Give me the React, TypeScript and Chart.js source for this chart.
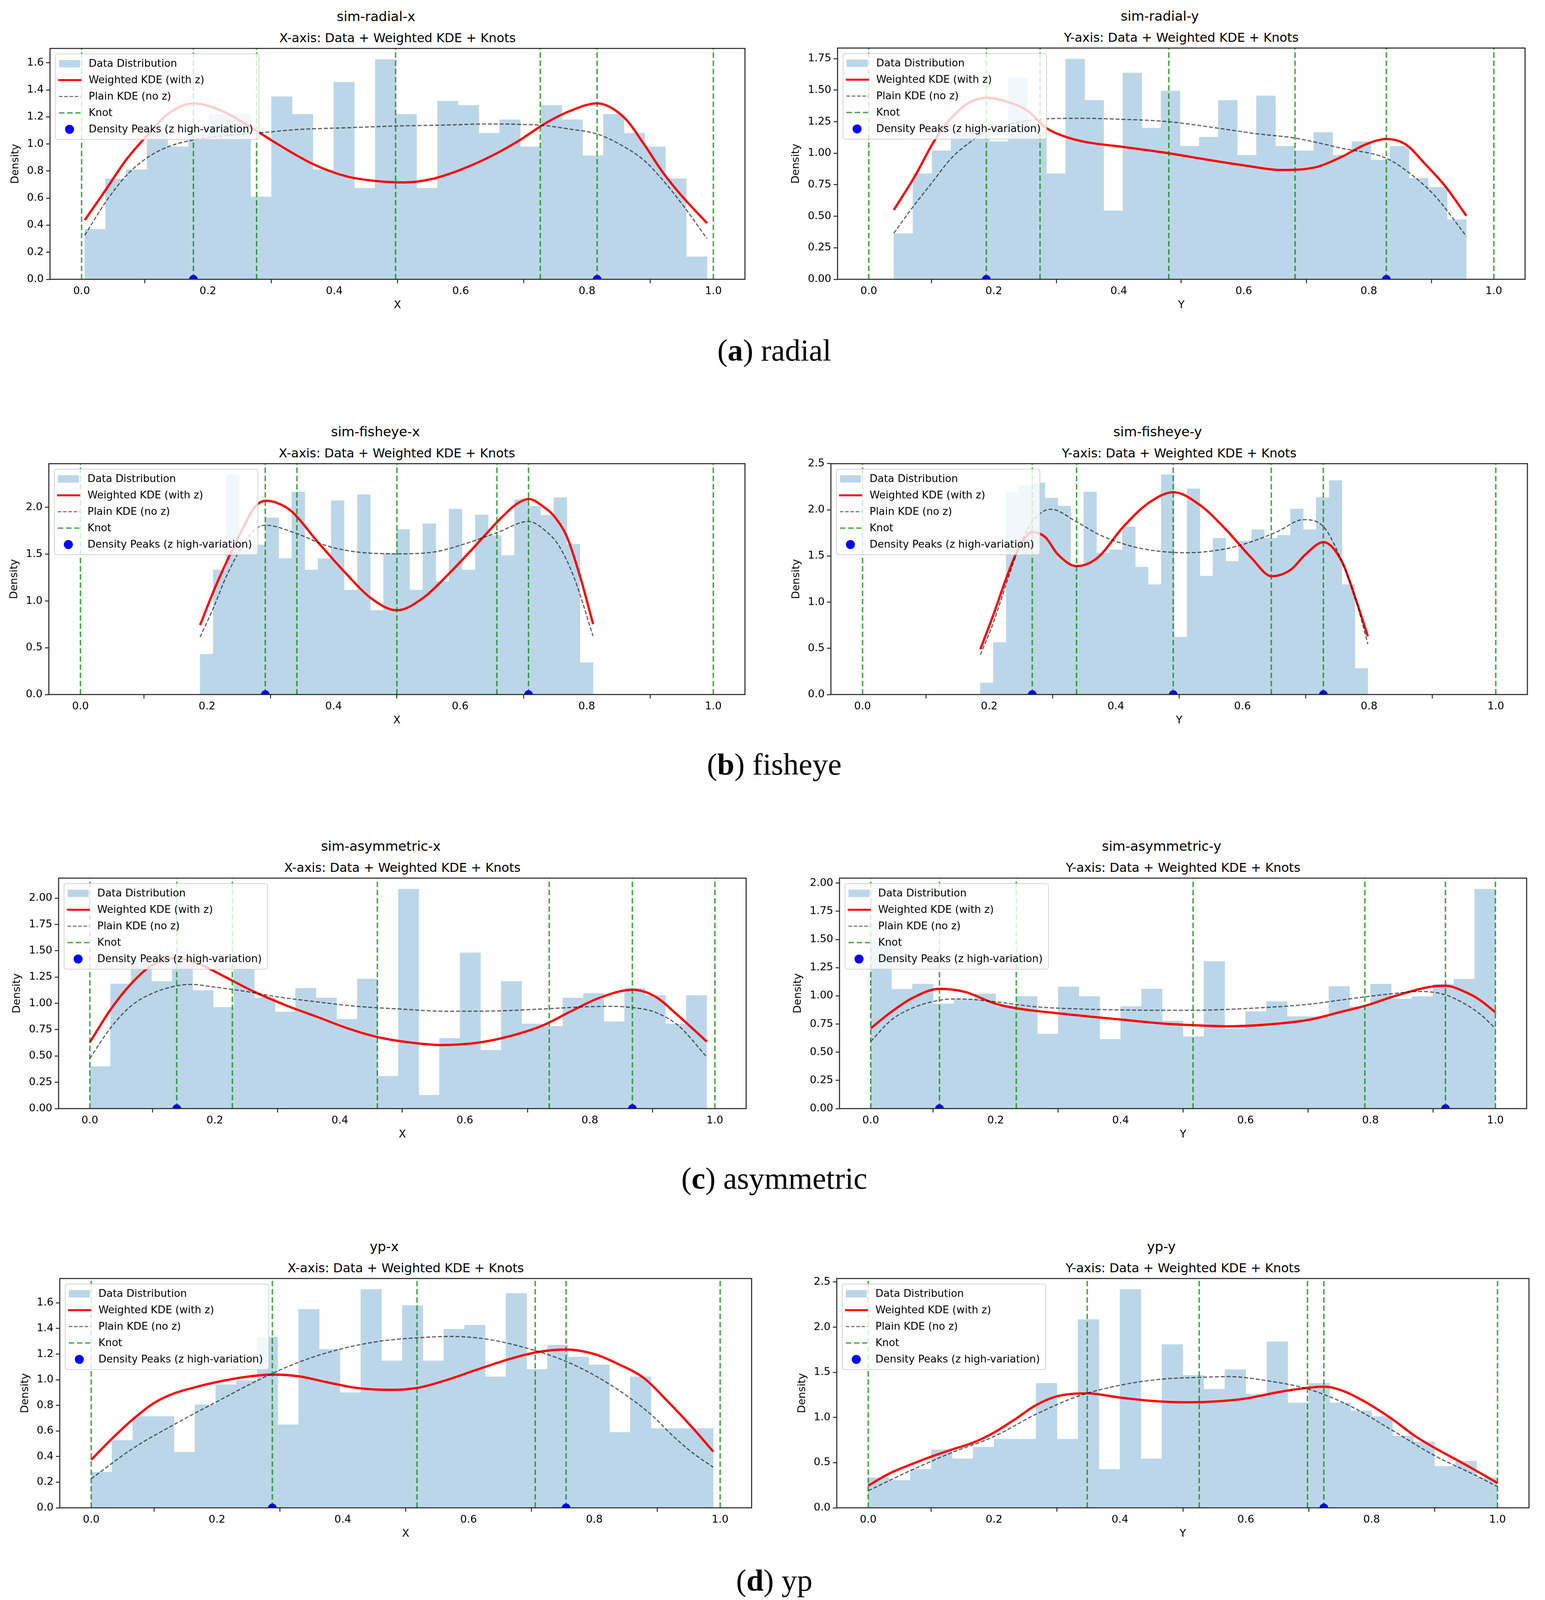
import React, { useEffect, useRef } from "react";
import { Chart, registerables } from "chart.js";
Chart.register(...registerables);

type Pt = [number, number];

const SANS = "'DejaVu Sans', 'Liberation Sans', sans-serif";
const SERIF = "'Liberation Serif', 'DejaVu Serif', serif";

const BAR_COLOR = "rgb(188,214,233)";
const RED = "#ff0000";
const GRAY = "rgba(0,0,0,0.62)";
const KNOT = "rgba(0,128,0,0.7)";
const PEAK = "#0000ff";

const legendLabels = [
  "Data Distribution",
  "Weighted KDE (with z)",
  "Plain KDE (no z)",
  "Knot",
  "Density Peaks (z high-variation)",
];

const xTicks = [0, 0.2, 0.4, 0.6, 0.8, 1.0];
const yTicks02 = [0, 0.2, 0.4, 0.6, 0.8, 1.0, 1.2, 1.4, 1.6];
const yTicks025 = [0, 0.25, 0.5, 0.75, 1.0, 1.25, 1.5, 1.75, 2.0];
const yTicks025b = [0, 0.25, 0.5, 0.75, 1.0, 1.25, 1.5, 1.75];
const yTicks05a = [0, 0.5, 1.0, 1.5, 2.0];
const yTicks05b = [0, 0.5, 1.0, 1.5, 2.0, 2.5];

// ---------- (a) radial ----------
const radialXRange: Pt = [0.005, 0.99];
const radialXHeights = [0.37, 0.744, 0.81, 1.08, 0.98, 1.07, 1.22, 1.22, 0.61, 1.35, 1.22, 0.81, 1.457, 0.674, 1.625, 1.22, 0.674, 1.317, 1.286, 1.08, 1.18, 0.98, 1.286, 1.18, 0.914, 1.22, 1.08, 0.98, 0.744, 0.167];
const radialXWeighted: Pt[] = [[0.005,0.437],[0.038,0.66],[0.07,0.88],[0.103,1.06],[0.136,1.22],[0.177,1.3],[0.224,1.24],[0.277,1.096],[0.31,1.0],[0.367,0.85],[0.42,0.76],[0.467,0.726],[0.512,0.716],[0.553,0.74],[0.6,0.81],[0.655,0.926],[0.694,1.03],[0.733,1.15],[0.773,1.244],[0.816,1.3],[0.86,1.19],[0.89,1.0],[0.92,0.79],[0.953,0.6],[0.99,0.415]];
const radialXPlain: Pt[] = [[0.005,0.326],[0.038,0.57],[0.07,0.763],[0.103,0.896],[0.136,0.978],[0.177,1.03],[0.224,1.06],[0.277,1.08],[0.342,1.107],[0.42,1.12],[0.498,1.133],[0.577,1.14],[0.64,1.148],[0.694,1.145],[0.733,1.136],[0.773,1.11],[0.816,1.074],[0.851,1.0],[0.89,0.88],[0.92,0.733],[0.953,0.54],[0.99,0.3]];
const radialXKnots = [0, 0.177, 0.277, 0.497, 0.726, 0.816, 1.0];
const radialXPeaks = [0.177, 0.816];

const radialYRange: Pt = [0.04, 0.956];
const radialYHeights = [0.363, 0.838, 1.02, 1.16, 1.16, 1.093, 1.6, 1.22, 0.838, 1.747, 1.42, 0.544, 1.637, 1.2, 1.494, 1.056, 1.128, 1.42, 0.985, 1.456, 1.056, 1.02, 1.165, 0.985, 1.093, 0.947, 1.056, 0.803, 0.73, 0.474];
const radialYWeighted: Pt[] = [[0.04,0.55],[0.074,0.82],[0.105,1.1],[0.132,1.28],[0.16,1.4],[0.188,1.44],[0.22,1.41],[0.254,1.336],[0.284,1.2],[0.315,1.13],[0.346,1.09],[0.407,1.05],[0.48,1.0],[0.54,0.95],[0.605,0.9],[0.66,0.867],[0.716,0.89],[0.756,0.97],[0.795,1.07],[0.828,1.113],[0.859,1.07],[0.89,0.915],[0.922,0.74],[0.956,0.504]];
const radialYPlain: Pt[] = [[0.04,0.366],[0.07,0.57],[0.1,0.76],[0.132,0.96],[0.16,1.08],[0.188,1.17],[0.23,1.235],[0.274,1.27],[0.34,1.277],[0.4,1.27],[0.48,1.25],[0.557,1.2],[0.62,1.155],[0.682,1.12],[0.756,1.04],[0.828,0.96],[0.867,0.835],[0.906,0.66],[0.956,0.342]];
const radialYKnots = [0, 0.188, 0.274, 0.48, 0.682, 0.828, 1.0];
const radialYPeaks = [0.188, 0.828];

// ---------- (b) fisheye ----------
const fisheyeXRange: Pt = [0.189, 0.81];
const fisheyeXHeights = [0.431, 1.333, 2.35, 1.55, 1.6, 1.89, 1.455, 2.165, 1.333, 1.455, 2.073, 1.118, 2.137, 0.899, 1.509, 1.766, 1.118, 1.826, 1.208, 1.983, 1.333, 1.92, 1.7, 1.487, 2.084, 2.013, 1.918, 2.105, 1.607, 0.341];
const fisheyeXWeighted: Pt[] = [[0.189,0.742],[0.21,1.1],[0.231,1.42],[0.256,1.77],[0.275,2.0],[0.292,2.07],[0.31,2.05],[0.334,1.955],[0.375,1.63],[0.42,1.29],[0.459,1.03],[0.5,0.9],[0.541,1.03],[0.582,1.29],[0.624,1.59],[0.665,1.89],[0.69,2.04],[0.708,2.09],[0.733,2.0],[0.748,1.91],[0.769,1.68],[0.79,1.25],[0.81,0.753]];
const fisheyeXPlain: Pt[] = [[0.189,0.614],[0.21,0.925],[0.231,1.27],[0.256,1.59],[0.275,1.76],[0.292,1.81],[0.342,1.72],[0.389,1.59],[0.435,1.525],[0.5,1.504],[0.56,1.525],[0.607,1.61],[0.658,1.73],[0.708,1.85],[0.733,1.76],[0.756,1.59],[0.78,1.25],[0.81,0.624]];
const fisheyeXKnots = [0, 0.292, 0.342, 0.5, 0.658, 0.708, 1.0];
const fisheyeXPeaks = [0.292, 0.708];

const fisheyeYRange: Pt = [0.186, 0.798];
const fisheyeYHeights = [0.126, 0.565, 2.193, 2.259, 2.291, 2.128, 2.041, 1.393, 2.193, 1.533, 1.567, 1.817, 1.38, 1.191, 2.38, 0.622, 2.228, 1.283, 1.693, 1.443, 1.663, 1.785, 1.693, 1.724, 2.009, 1.785, 2.133, 2.317, 1.191, 0.283];
const fisheyeYWeighted: Pt[] = [[0.186,0.49],[0.207,0.87],[0.227,1.26],[0.247,1.59],[0.268,1.76],[0.289,1.7],[0.308,1.52],[0.338,1.39],[0.371,1.48],[0.411,1.81],[0.451,2.07],[0.491,2.19],[0.533,2.05],[0.574,1.785],[0.614,1.48],[0.646,1.28],[0.676,1.35],[0.7,1.52],[0.728,1.65],[0.757,1.44],[0.778,1.05],[0.798,0.63]];
const fisheyeYPlain: Pt[] = [[0.186,0.43],[0.207,0.785],[0.227,1.2],[0.247,1.59],[0.268,1.87],[0.297,2.006],[0.338,1.87],[0.371,1.74],[0.411,1.633],[0.451,1.567],[0.512,1.535],[0.574,1.578],[0.614,1.654],[0.655,1.763],[0.696,1.893],[0.728,1.817],[0.757,1.44],[0.778,1.05],[0.798,0.546]];
const fisheyeYKnots = [0, 0.268, 0.338, 0.4906, 0.6455, 0.7277, 1.0];
const fisheyeYPeaks = [0.268, 0.4906, 0.7277];

// ---------- (c) asymmetric ----------
const asymXRange: Pt = [0, 0.987];
const asymXHeights = [0.4, 1.186, 1.4, 1.209, 1.4, 1.123, 0.963, 1.325, 1.052, 0.919, 1.144, 1.052, 0.85, 1.232, 0.309, 2.086, 0.128, 0.669, 1.481, 0.557, 1.209, 0.805, 0.782, 1.052, 1.096, 0.827, 1.144, 1.075, 0.805, 1.075];
const asymXWeighted: Pt[] = [[0,0.63],[0.033,0.94],[0.066,1.186],[0.098,1.357],[0.139,1.43],[0.174,1.377],[0.213,1.262],[0.263,1.11],[0.316,0.976],[0.364,0.871],[0.411,0.766],[0.46,0.68],[0.506,0.633],[0.562,0.604],[0.617,0.623],[0.673,0.69],[0.723,0.786],[0.768,0.919],[0.815,1.052],[0.868,1.129],[0.903,1.07],[0.942,0.88],[0.987,0.637]];
const asymXPlain: Pt[] = [[0,0.477],[0.033,0.766],[0.066,0.976],[0.098,1.09],[0.139,1.167],[0.162,1.18],[0.197,1.157],[0.253,1.11],[0.3,1.062],[0.364,1.014],[0.427,0.972],[0.491,0.948],[0.57,0.925],[0.649,0.928],[0.728,0.948],[0.792,0.967],[0.831,0.972],[0.868,0.96],[0.903,0.919],[0.942,0.786],[0.987,0.49]];
const asymXKnots = [0, 0.139, 0.228, 0.46, 0.735, 0.868, 1.0];
const asymXPeaks = [0.139, 0.868];

const asymYRange: Pt = [0, 1.0];
const asymYHeights = [1.48, 1.06, 1.105, 0.929, 0.97, 1.018, 0.906, 0.995, 0.662, 1.08, 0.995, 0.616, 0.906, 1.062, 0.778, 0.639, 1.306, 0.706, 0.861, 0.95, 0.817, 0.817, 1.084, 0.906, 1.105, 0.973, 0.995, 1.105, 1.149, 1.947];
const asymYWeighted: Pt[] = [[0,0.712],[0.033,0.858],[0.067,0.982],[0.11,1.062],[0.15,1.036],[0.2,0.93],[0.233,0.89],[0.3,0.845],[0.4,0.79],[0.466,0.755],[0.516,0.74],[0.57,0.73],[0.633,0.745],[0.7,0.786],[0.753,0.858],[0.791,0.911],[0.84,1.0],[0.895,1.08],[0.92,1.089],[0.951,1.036],[0.975,0.964],[1.0,0.854]];
const asymYPlain: Pt[] = [[0,0.596],[0.033,0.786],[0.067,0.893],[0.11,0.961],[0.142,0.973],[0.2,0.947],[0.267,0.902],[0.333,0.884],[0.4,0.875],[0.466,0.872],[0.516,0.872],[0.566,0.879],[0.633,0.897],[0.7,0.925],[0.766,0.973],[0.833,1.018],[0.88,1.039],[0.92,1.009],[0.951,0.929],[0.975,0.84],[1.0,0.712]];
const asymYKnots = [0, 0.11, 0.233, 0.516, 0.791, 0.92, 1.0];
const asymYPeaks = [0.11, 0.92];

// ---------- (d) yp ----------
const ypXRange: Pt = [0, 0.989];
const ypXHeights = [0.279, 0.527, 0.714, 0.714, 0.435, 0.806, 0.962, 0.993, 1.335, 0.649, 1.55, 1.239, 0.9, 1.705, 1.148, 1.58, 1.148, 1.395, 1.426, 1.024, 1.675, 1.082, 1.271, 1.178, 1.117, 0.59, 1.024, 0.62, 0.62, 0.62];
const ypXWeighted: Pt[] = [[0,0.375],[0.033,0.54],[0.066,0.69],[0.099,0.816],[0.132,0.894],[0.165,0.941],[0.198,0.98],[0.249,1.024],[0.288,1.04],[0.33,1.027],[0.375,0.98],[0.422,0.936],[0.477,0.921],[0.518,0.936],[0.564,0.996],[0.611,1.075],[0.659,1.153],[0.706,1.213],[0.755,1.236],[0.8,1.2],[0.839,1.12],[0.879,1.012],[0.918,0.824],[0.957,0.62],[0.989,0.439]];
const ypXPlain: Pt[] = [[0,0.227],[0.066,0.463],[0.132,0.651],[0.198,0.824],[0.264,0.993],[0.33,1.137],[0.396,1.239],[0.461,1.302],[0.527,1.33],[0.572,1.338],[0.627,1.318],[0.692,1.247],[0.758,1.137],[0.824,0.965],[0.89,0.729],[0.923,0.57],[0.956,0.43],[0.989,0.317]];
const ypXKnots = [0, 0.288, 0.518, 0.706, 0.755, 1.0];
const ypXPeaks = [0.288, 0.755];

const ypYRange: Pt = [0, 1.0];
const ypYHeights = [0.334, 0.305, 0.427, 0.643, 0.545, 0.672, 0.761, 0.761, 1.379, 0.761, 2.085, 0.427, 2.418, 0.545, 1.809, 1.468, 1.313, 1.531, 1.257, 1.84, 1.163, 1.379, 1.163, 1.075, 1.012, 0.796, 0.732, 0.46, 0.518, 0.334];
const ypYWeighted: Pt[] = [[0,0.245],[0.033,0.378],[0.067,0.478],[0.1,0.567],[0.133,0.645],[0.167,0.723],[0.2,0.834],[0.233,0.979],[0.266,1.135],[0.3,1.235],[0.348,1.268],[0.397,1.224],[0.46,1.179],[0.507,1.168],[0.555,1.179],[0.602,1.212],[0.65,1.279],[0.698,1.328],[0.724,1.341],[0.752,1.301],[0.791,1.168],[0.831,0.99],[0.87,0.79],[0.902,0.656],[0.949,0.478],[1.0,0.274]];
const ypYPlain: Pt[] = [[0,0.189],[0.067,0.412],[0.133,0.612],[0.2,0.79],[0.266,1.034],[0.333,1.235],[0.4,1.357],[0.466,1.424],[0.533,1.446],[0.574,1.453],[0.633,1.408],[0.7,1.313],[0.767,1.123],[0.833,0.857],[0.9,0.578],[0.966,0.356],[1.0,0.234]];
const ypYKnots = [0, 0.348, 0.526, 0.698, 0.724, 1.0];
const ypYPeaks = [0.724];

interface Panel {
  suptitle: string;
  subtitle: string;
  xlabel: string;
  range: Pt;
  heights: number[];
  weighted: Pt[];
  plain: Pt[];
  knots: number[];
  peaks: number[];
  yTicks: number[];
  yDec: number;
}

const SUB_X = "X-axis: Data + Weighted KDE + Knots";
const SUB_Y = "Y-axis: Data + Weighted KDE + Knots";

const panels: Panel[] = [
  { suptitle: "sim-radial-x", subtitle: SUB_X, xlabel: "X", range: radialXRange, heights: radialXHeights, weighted: radialXWeighted, plain: radialXPlain, knots: radialXKnots, peaks: radialXPeaks, yTicks: yTicks02, yDec: 1 },
  { suptitle: "sim-radial-y", subtitle: SUB_Y, xlabel: "Y", range: radialYRange, heights: radialYHeights, weighted: radialYWeighted, plain: radialYPlain, knots: radialYKnots, peaks: radialYPeaks, yTicks: yTicks025b, yDec: 2 },
  { suptitle: "sim-fisheye-x", subtitle: SUB_X, xlabel: "X", range: fisheyeXRange, heights: fisheyeXHeights, weighted: fisheyeXWeighted, plain: fisheyeXPlain, knots: fisheyeXKnots, peaks: fisheyeXPeaks, yTicks: yTicks05a, yDec: 1 },
  { suptitle: "sim-fisheye-y", subtitle: SUB_Y, xlabel: "Y", range: fisheyeYRange, heights: fisheyeYHeights, weighted: fisheyeYWeighted, plain: fisheyeYPlain, knots: fisheyeYKnots, peaks: fisheyeYPeaks, yTicks: yTicks05b, yDec: 1 },
  { suptitle: "sim-asymmetric-x", subtitle: SUB_X, xlabel: "X", range: asymXRange, heights: asymXHeights, weighted: asymXWeighted, plain: asymXPlain, knots: asymXKnots, peaks: asymXPeaks, yTicks: yTicks025, yDec: 2 },
  { suptitle: "sim-asymmetric-y", subtitle: SUB_Y, xlabel: "Y", range: asymYRange, heights: asymYHeights, weighted: asymYWeighted, plain: asymYPlain, knots: asymYKnots, peaks: asymYPeaks, yTicks: yTicks025, yDec: 2 },
  { suptitle: "yp-x", subtitle: SUB_X, xlabel: "X", range: ypXRange, heights: ypXHeights, weighted: ypXWeighted, plain: ypXPlain, knots: ypXKnots, peaks: ypXPeaks, yTicks: yTicks02, yDec: 1 },
  { suptitle: "yp-y", subtitle: SUB_Y, xlabel: "Y", range: ypYRange, heights: ypYHeights, weighted: ypYWeighted, plain: ypYPlain, knots: ypYKnots, peaks: ypYPeaks, yTicks: yTicks05b, yDec: 1 },
];

const captionLetters = ["a", "b", "c", "d"];
const captionNames = ["radial", "fisheye", "asymmetric", "yp"];

// ---------- layout (pixels) ----------
const RECTS: number[][] = [
  [128, 124, 1907, 715], [2144, 123, 3904, 715],
  [125, 1187, 1907, 1778], [2127, 1187, 3910, 1778],
  [150, 2248, 1910, 2838], [2149, 2248, 3908, 2838],
  [153, 3273, 1924, 3860], [2142, 3273, 3914, 3860],
];
const CAPTION_BASELINES = [923, 1983, 3043, 4072];
const AXW = 130;
const AXH = 90;
const PADT = 30;
const PADR = 30;
const RED_W = 5.8;
const GRAY_W = 3;
const GRAY_DASH = [10, 5];
const KNOT_W = 3.8;
const KNOT_DASH = [14, 7];

function drawLegend(ctx: CanvasRenderingContext2D, left: number, top: number) {
  const lx = left + 14, ly = top + 14, lw = 521, lh = 219;
  ctx.save();
  ctx.beginPath();
  (ctx as any).roundRect(lx, ly, lw, lh, 6);
  ctx.fillStyle = "rgba(255,255,255,0.8)";
  ctx.fill();
  ctx.lineWidth = 2;
  ctx.strokeStyle = "rgba(204,204,204,0.85)";
  ctx.stroke();
  const hx0 = lx + 7, hx1 = lx + 66;
  legendLabels.forEach((label, i) => {
    const cy = ly + 25 + 42 * i;
    ctx.setLineDash([]);
    if (i === 0) {
      ctx.fillStyle = BAR_COLOR;
      ctx.fillRect(lx + 9, cy - 9.5, 54, 19);
    } else if (i === 1) {
      ctx.strokeStyle = RED; ctx.lineWidth = 5;
      ctx.beginPath(); ctx.moveTo(hx0, cy); ctx.lineTo(hx1, cy); ctx.stroke();
    } else if (i === 2) {
      ctx.strokeStyle = GRAY; ctx.lineWidth = 2.6; ctx.setLineDash([9, 4.5]);
      ctx.beginPath(); ctx.moveTo(hx0 + 2, cy); ctx.lineTo(hx1 - 2, cy); ctx.stroke();
    } else if (i === 3) {
      ctx.strokeStyle = KNOT; ctx.lineWidth = 3.4; ctx.setLineDash([14, 7]);
      ctx.beginPath(); ctx.moveTo(hx0 + 2, cy); ctx.lineTo(hx1 - 2, cy); ctx.stroke();
    } else {
      ctx.fillStyle = PEAK;
      ctx.beginPath(); ctx.arc(lx + 36, cy, 11.5, 0, Math.PI * 2); ctx.fill();
    }
    ctx.setLineDash([]);
    ctx.fillStyle = "#000";
    ctx.font = `26.5px ${SANS}`;
    ctx.textAlign = "left";
    ctx.textBaseline = "middle";
    ctx.fillText(label, lx + 85, cy + 1);
  });
  ctx.restore();
}

function PanelChart({ p, rect }: { p: Panel; rect: number[] }) {
  const ref = useRef<HTMLCanvasElement>(null);
  const [L, T, R, B] = rect;
  const W = R - L + AXW + PADR;
  const H = B - T + PADT + AXH;
  useEffect(() => {
    if (!ref.current) return;
    const n = p.heights.length;
    const bw = (p.range[1] - p.range[0]) / n;
    const bars = p.heights.map((h, i) => ({ x: p.range[0] + (i + 0.5) * bw, y: h }));
    const allY = [...p.heights, ...p.weighted.map((d) => d[1]), ...p.plain.map((d) => d[1])];
    const yMax = Math.max(...allY) * 1.05;
    const ylabelOff = p.yDec === 2 ? 106 : 88;
    const datasets: any[] = [
      { type: "bar", label: legendLabels[0], data: bars, backgroundColor: BAR_COLOR, borderWidth: 0, barPercentage: 1, categoryPercentage: 1, order: 5 },
      { type: "line", label: legendLabels[1], data: p.weighted.map(([x, y]) => ({ x, y })), borderColor: RED, borderWidth: RED_W, pointRadius: 0, cubicInterpolationMode: "monotone", fill: false, order: 4 },
      { type: "line", label: legendLabels[2], data: p.plain.map(([x, y]) => ({ x, y })), borderColor: GRAY, borderWidth: GRAY_W, borderDash: GRAY_DASH, pointRadius: 0, cubicInterpolationMode: "monotone", fill: false, order: 3 },
      ...p.knots.map((k) => ({ type: "line", label: legendLabels[3], data: [{ x: k, y: 0 }, { x: k, y: yMax }], borderColor: KNOT, borderWidth: KNOT_W, borderDash: KNOT_DASH, pointRadius: 0, fill: false, order: 2 })),
      { type: "line", label: legendLabels[4], data: p.peaks.map((x) => ({ x, y: 0 })), showLine: false, pointRadius: 11, pointBackgroundColor: PEAK, pointBorderWidth: 0, borderColor: PEAK, clip: 0, order: 1 },
    ];
    const overlay = {
      id: "overlay" + p.suptitle,
      afterDatasetsDraw(chart: any) {
        const { ctx, chartArea: a } = chart;
        drawLegend(ctx, a.left, a.top);
        ctx.save();
        ctx.strokeStyle = "#222";
        ctx.lineWidth = 2.6;
        ctx.setLineDash([]);
        ctx.strokeRect(a.left, a.top, a.right - a.left, a.bottom - a.top);
        ctx.restore();
      },
    };
    const chart = new Chart(ref.current, {
      type: "line",
      data: { datasets },
      plugins: [overlay],
      options: {
        responsive: false,
        animation: false,
        devicePixelRatio: 1,
        events: [],
        layout: { padding: { top: PADT, right: PADR, left: 0, bottom: 0 } },
        plugins: { legend: { display: false }, tooltip: { enabled: false }, title: { display: false } },
        scales: {
          x: {
            type: "linear",
            min: -0.05,
            max: 1.05,
            offset: false,
            afterFit: (s: any) => { s.height = AXH; },
            afterBuildTicks: (s: any) => { s.ticks = xTicks.map((v) => ({ value: v })); },
            ticks: { font: { family: SANS, size: 27 }, color: "#000", padding: 5, maxRotation: 0, autoSkip: false, callback: (v: any) => Number(v).toFixed(1) },
            grid: { display: true, drawOnChartArea: false, drawTicks: true, tickLength: 10, tickWidth: 2.4, tickColor: "#222" },
            border: { display: false },
            title: { display: true, text: p.xlabel, font: { family: SANS, size: 27 }, color: "#000", padding: { top: 0, bottom: 6.8 } },
          },
          y: {
            type: "linear",
            min: 0,
            max: yMax,
            afterFit: (s: any) => { s.width = AXW; },
            afterBuildTicks: (s: any) => { s.ticks = p.yTicks.map((v) => ({ value: v })); },
            ticks: { font: { family: SANS, size: 27 }, color: "#000", padding: 6, autoSkip: false, callback: (v: any) => Number(v).toFixed(p.yDec) },
            grid: { display: true, drawOnChartArea: false, drawTicks: true, tickLength: 10, tickWidth: 2.4, tickColor: "#222" },
            border: { display: false },
            title: { display: true, text: "Density", font: { family: SANS, size: 27 }, color: "#000", padding: { top: AXW - ylabelOff - 16.2, bottom: 0 } },
          },
        },
      } as any,
    });
    return () => chart.destroy();
  }, [p]);
  const cx = (L + R) / 2;
  return (
    <>
      <div style={{ position: "absolute", left: cx - 55, top: T - 70 - 0.846 * 34, transform: "translateX(-50%)", font: `34px ${SANS}`, lineHeight: 1, whiteSpace: "nowrap", color: "#000" }}>{p.suptitle}</div>
      <div style={{ position: "absolute", left: cx, top: T - 16 - 0.846 * 32, transform: "translateX(-50%)", font: `32px ${SANS}`, lineHeight: 1, whiteSpace: "nowrap", color: "#000" }}>{p.subtitle}</div>
      <canvas ref={ref} width={W} height={H} style={{ position: "absolute", left: L - AXW, top: T - PADT, width: W, height: H }} />
    </>
  );
}

export default function App() {
  return (
    <div style={{ position: "absolute", left: 0, top: 0, width: 3955, height: 4119, background: "#fff", overflow: "hidden" }}>
      {panels.map((p, i) => (
        <PanelChart key={p.suptitle} p={p} rect={RECTS[i]} />
      ))}
      {captionLetters.map((c, i) => (
        <div key={c} style={{ position: "absolute", left: 1982, top: CAPTION_BASELINES[i] - 0.8375 * 79, transform: "translateX(-50%)", font: `79px ${SERIF}`, lineHeight: 1, whiteSpace: "nowrap", color: "#000" }}>
          (<b>{c}</b>) {captionNames[i]}
        </div>
      ))}
    </div>
  );
}
